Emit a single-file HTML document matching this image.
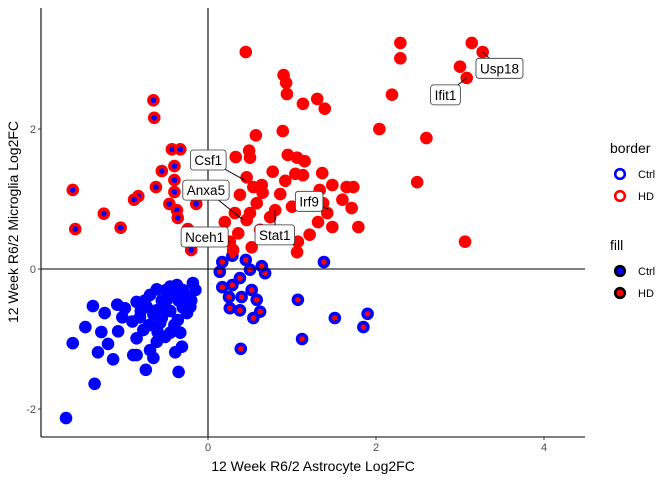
<!DOCTYPE html>
<html><head><meta charset="utf-8"><style>
body{margin:0;background:#fff}
svg text{font-family:"Liberation Sans",sans-serif}
</style></head><body>
<svg id="chart" width="672" height="480" xmlns="http://www.w3.org/2000/svg">
<g id="pts"></g>
<g id="ax"></g>
</svg>
<script>
// Group data: [x, y] in Log2FC units
const ctrlCtrlX=[-1.37,-1.23,-1.08,-1.46,-1.27,-1.61,-1.07,-1.19,-1.31,-1.13,-1.35,-1.69,-0.74,-0.35,-0.85,-0.65,-0.39,-0.31,-0.33,-0.18,-0.37,-0.61,-0.99,-0.85,-1.02,-0.81,-0.73,-0.61,-0.49,-0.42,-0.30,-0.21,-0.57,-0.45,-0.77,-0.85,-0.89,-0.69,-0.61,-0.51,-0.36,-0.25,-0.69,-0.54,-0.55,-0.65,-0.45,-0.35,-0.25,-0.15,-0.5,-0.8,-0.7,-0.4,-0.6,-0.3,-0.2,-0.45,-0.9,-0.55,-0.75];
const ctrlCtrlY=[-0.53,-0.63,-0.51,-0.83,-0.90,-1.06,-0.89,-1.07,-1.19,-1.29,-1.64,-2.13,-1.44,-1.47,-1.23,-1.27,-1.19,-1.11,-0.91,-0.20,-0.23,-0.29,-0.56,-0.47,-0.69,-0.69,-0.54,-0.59,-0.44,-0.37,-0.30,-0.54,-0.77,-0.91,-0.87,-0.99,-1.23,-1.16,-1.04,-0.97,-0.73,-0.63,-0.37,-0.56,-0.45,-0.65,-0.6,-0.45,-0.4,-0.3,-0.3,-0.6,-0.8,-0.8,-0.9,-0.55,-0.45,-0.25,-0.75,-0.7,-0.45];
const hdCtrlX=[-0.65,-0.64,-0.43,-0.33,-0.40,-0.55,-1.61,-0.62,-0.83,-0.40,-0.88,-0.14,-0.46,-0.37,-0.36,-1.24,-1.04,-1.58,-0.24,-0.20,-0.40];
const hdCtrlY=[2.41,2.16,1.71,1.71,1.47,1.40,1.13,1.17,1.04,1.10,0.99,0.93,0.93,0.84,0.73,0.79,0.59,0.57,0.57,0.27,1.27];
const ctrlHdX=[0.17,0.29,0.45,0.17,0.29,0.38,0.50,0.25,0.40,0.52,0.68,0.58,0.62,0.54,0.38,0.26,1.07,1.38,1.51,1.90,1.85,0.39,1.12,0.64,0.14];
const ctrlHdY=[0.10,0.19,0.13,-0.26,-0.23,-0.13,-0.01,-0.40,-0.40,-0.30,-0.06,-0.44,-0.61,-0.70,-0.59,-0.56,-0.44,0.10,-0.70,-0.64,-0.83,-1.14,-1.00,0.04,-0.04];
const hdHdX=[0.45,0.90,0.93,0.94,1.13,1.30,1.39,2.04,0.57,0.89,0.49,0.50,0.33,0.95,1.06,1.15,0.77,1.04,1.13,1.36,0.92,0.46,0.64,0.65,0.54,0.38,0.86,1.48,1.33,1.65,1.73,1.60,1.71,1.37,1.42,1.00,0.58,0.50,0.32,0.20,0.46,0.74,0.80,1.31,1.48,1.79,1.21,1.07,0.36,0.30,0.52,1.06,0.62,2.29,2.29,3.14,3.27,3.00,3.08,2.19,2.60,2.49,3.06,0.26];
const hdHdY=[3.10,2.77,2.66,2.50,2.36,2.43,2.29,2.00,1.91,1.97,1.69,1.59,1.60,1.63,1.59,1.54,1.39,1.36,1.34,1.37,1.26,1.31,1.20,1.09,1.17,1.06,1.07,1.20,1.13,1.17,1.17,0.99,0.87,0.94,0.80,0.89,0.94,0.80,0.80,0.67,0.70,0.74,0.84,0.67,0.60,0.60,0.49,0.39,0.51,0.27,0.31,0.24,0.56,3.23,3.01,3.23,3.10,2.89,2.73,2.49,1.87,1.24,0.39,0.39];
const xTicks=[0,2,4];
const yTicks=[-2,0,2];
const geneNames=["Usp18","Ifit1","Csf1","Anxa5","Nceh1","Stat1","Irf9"];
const geneX=[3.27,3.08,0.45,0.42,0.26,0.80,1.46];
const geneY=[3.10,2.73,1.26,0.70,0.39,0.84,0.84];
const labelX=[3.19,2.65,-0.21,-0.30,-0.32,0.56,1.04];
const labelY=[3.01,2.63,1.70,1.27,0.60,0.63,1.11];

const L=41,R=585,T=8,B=437;
const sx=v=>208+v*84, sy=v=>269-v*70;
const NS="http://www.w3.org/2000/svg";
function mk(tag,attrs,parent,text){const e=document.createElementNS(NS,tag);for(const k in attrs)e.setAttribute(k,attrs[k]);if(text!==undefined)e.textContent=text;parent.appendChild(e);return e;}
const pts=document.getElementById('pts'), ax=document.getElementById('ax');
function drawGroup(xs,ys,border,fill,name){
  for(let i=0;i<xs.length;i++){
    const o=mk('circle',{cx:sx(xs[i]),cy:sy(ys[i]),r:6.3,fill:border},pts);
    
    
    if(fill!==border){const f=mk('circle',{cx:sx(xs[i]),cy:sy(ys[i]),r:2.8,fill:fill},pts);
      
      }
  }
}
drawGroup(ctrlCtrlX,ctrlCtrlY,'#0000ff','#0000ff','ctrl-ctrl');
drawGroup(hdCtrlX,hdCtrlY,'#ff0000','#0000ff','hd-ctrl');
drawGroup(ctrlHdX,ctrlHdY,'#0000ff','#ff0000','ctrl-hd');
drawGroup(hdHdX,hdHdY,'#ff0000','#ff0000','hd-hd');
// reference lines
let e=mk('line',{x1:sx(0),x2:sx(0),y1:T,y2:B,stroke:'#000','stroke-width':1.1},ax);


e=mk('line',{x1:L,x2:R,y1:sy(0),y2:sy(0),stroke:'#000','stroke-width':1.1},ax);


// labels
for(let i=0;i<geneNames.length;i++){
  const lx=sx(labelX[i]), ly=sy(labelY[i]);
  const g=mk('g',{},ax);
  
  
  const ln=mk('line',{x1:0,y1:0,x2:sx(geneX[i]),y2:sy(geneY[i]),stroke:'#000','stroke-width':1},g);
  
  
  const rc=mk('rect',{x:lx,y:ly,width:10,height:20,rx:3,fill:'#fff',stroke:'#333','stroke-width':0.8},g);
  
  
  const t=mk('text',{x:lx+4,y:ly+15,'font-size':13.5,fill:'#000'},g,geneNames[i]);
  
  
  let w=geneNames[i].length*7.6+8;
  try{w=t.getComputedTextLength()+8;}catch(err){}
  rc.setAttribute('width',w);
  ln.setAttribute('x1',lx+w/2);
  ln.setAttribute('y1',ly+10);
}
// axes
e=mk('line',{x1:L,x2:L,y1:T,y2:B,stroke:'#000','stroke-width':1.1},ax);


e=mk('line',{x1:L,x2:R,y1:B,y2:B,stroke:'#000','stroke-width':1.1},ax);


xTicks.forEach(v=>{
  const tk=mk('line',{x1:sx(v),x2:sx(v),y1:B,y2:B+3,stroke:'#333'},ax);
  
  
  const t=mk('text',{x:sx(v),y:B+14,'text-anchor':'middle','font-size':11,fill:'#4d4d4d'},ax,String(v));
  
  
});
yTicks.forEach(v=>{
  const tk=mk('line',{x1:L-3,x2:L,y1:sy(v),y2:sy(v),stroke:'#333'},ax);
  
  
  const t=mk('text',{x:L-5,y:sy(v)+4,'text-anchor':'end','font-size':11,fill:'#4d4d4d'},ax,String(v));
  
  
});
</script>
<svg style="position:absolute;left:0;top:0" width="672" height="480">
<text x="313" y="471" text-anchor="middle" font-size="14" font-family="Liberation Sans" fill="#000">12 Week R6/2 Astrocyte Log2FC</text>
<text transform="translate(18,222) rotate(-90)" text-anchor="middle" font-size="14" font-family="Liberation Sans" fill="#000">12 Week R6/2 Microglia Log2FC</text>
<g font-family="Liberation Sans">
<text x="610" y="153" font-size="14">border</text>
<circle cx="620" cy="174" r="4.8" fill="#fff" stroke="#0000ff" stroke-width="2.6"/>
<text x="638" y="178" font-size="11">Ctrl</text>
<circle cx="620" cy="196" r="4.8" fill="#fff" stroke="#ff0000" stroke-width="2.6"/>
<text x="638" y="200" font-size="11">HD</text>
<text x="610" y="250" font-size="14">fill</text>
<circle cx="620" cy="271" r="4.8" fill="#0000ff" stroke="#000" stroke-width="2.6"/>
<text x="638" y="275" font-size="11">Ctrl</text>
<circle cx="620" cy="293" r="4.8" fill="#ff0000" stroke="#000" stroke-width="2.6"/>
<text x="638" y="297" font-size="11">HD</text>
</g>
</svg>
</body></html>
